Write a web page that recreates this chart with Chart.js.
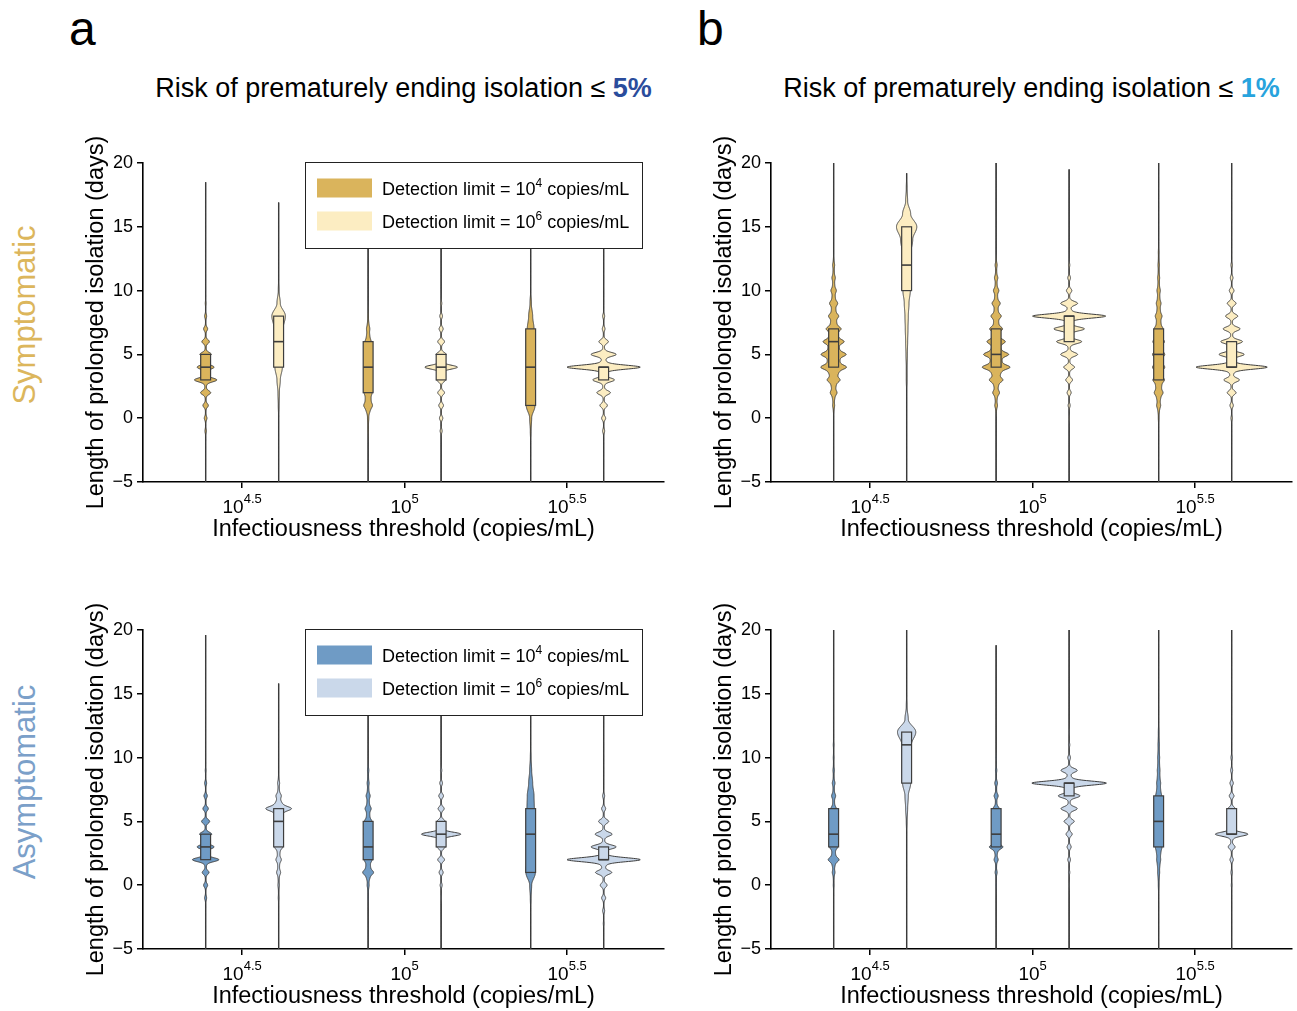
<!DOCTYPE html>
<html>
<head>
<meta charset="utf-8">
<script src="https://cdn.jsdelivr.net/npm/chart.js@4.4.1/dist/chart.umd.min.js"></script>
<style>
  body { margin: 0; background: #fff; width: 1297px; height: 1011px; overflow: hidden; position: relative;
         font-family: "Liberation Sans", Arial, sans-serif; color: #000; }
  .panel { position: absolute; width: 669px; height: 430px; }
  .letter { position: absolute; font-size: 48px; line-height: 48px; }
  .title { position: absolute; width: 521px; text-align: center; font-size: 27px; line-height: 28px; white-space: nowrap; }
  .title b { font-weight: bold; }
  .row { position: absolute; font-size: 31px; line-height: 32px; white-space: nowrap;
         transform: translate(-50%, -50%) rotate(-90deg); }
</style>
</head>
<body>
<div class="letter" style="left:69px; top:5px;">a</div>
<div class="letter" style="left:697px; top:5px;">b</div>
<div class="title" style="left:143px; top:74px;">Risk of prematurely ending isolation ≤ <b style="color:#2a4c9c">5%</b></div>
<div class="title" style="left:771px; top:74px;">Risk of prematurely ending isolation ≤ <b style="color:#27a3dd">1%</b></div>
<div class="row" style="left:25px; top:315px; color:#dcb65c;">Symptomatic</div>
<div class="row" style="left:25px; top:782px; color:#7ba0c9;">Asymptomatic</div>

<canvas class="panel" id="symp5" width="669" height="430" style="left:0; top:120px;"></canvas>
<canvas class="panel" id="symp1" width="669" height="430" style="left:628px; top:120px;"></canvas>
<canvas class="panel" id="asym5" width="669" height="430" style="left:0; top:587px;"></canvas>
<canvas class="panel" id="asym1" width="669" height="430" style="left:628px; top:587px;"></canvas>

<script>
// x categories: log10 of infectiousness threshold
const thresholds = [4.5, 5, 5.5];
const tickExponents = ["4.5", "5", "5.5"];
const yTicks = [-5, 0, 5, 10, 15, 20];
const legendExponents = ["4", "6"];
// density values are read at each whole day of this grid
const dayGrid = [-3, -2, -1, 0, 1, 2, 3, 4, 5, 6, 7, 8, 9, 10, 11, 12, 13, 14, 15, 16, 17, 18];

// Symptomatic, risk <= 5%
const symp5DarkDensity = [
  [0, 0, 2, 4, 8, 15, 33, 25, 17, 11, 6, 3, 1, 0, 0, 0, 0, 0, 0, 0, 0, 0],
  [0, 0, 1, 2, 13, 12, 10, 10, 10, 9, 5, 1, 0, 0, 0, 0, 0, 0, 0, 0, 0, 0],
  [0, 0, 1, 3, 13, 10, 10, 10, 10, 10, 10, 6, 2, 0, 0, 0, 0, 0, 0, 0, 0, 0]
];
const symp5DarkBox = [[3, 4, 5], [2, 4, 6], [1, 4, 7]];
const symp5DarkRange = [[-5, 18.5], [-5, 20], [-5, 20]];
const symp5DarkShape = [0.1, 0.7, 1];
const symp5LightDensity = [
  [0, 0, 0, 0, 1, 2, 5, 11, 13, 13, 13, 20, 5, 1, 0, 0, 0, 0, 0, 0, 0, 0],
  [0, 0, 3, 5, 7, 10, 13, 48, 15, 10, 6, 4, 2, 0, 0, 0, 0, 0, 0, 0, 0, 0],
  [0, 0, 3, 6, 11, 20, 32, 108, 37, 14, 4, 3, 0, 0, 0, 0, 0, 0, 0, 0, 0, 0]
];
const symp5LightBox = [[4, 6, 8], [3, 4, 5], [3, 4, 4]];
const symp5LightRange = [[-5, 16.9], [-5, 20], [-5, 20]];
const symp5LightShape = [1, 0.1, 0.1];

// Symptomatic, risk <= 1%
const symp1DarkDensity = [
  [0, 0, 0, 0, 3, 10, 19, 38, 37, 31, 22, 15, 12, 8, 5, 3, 0, 0, 0, 0, 0, 0],
  [0, 0, 0, 0, 4, 10, 20, 41, 37, 27, 19, 15, 12, 8, 5, 3, 0, 0, 0, 0, 0, 0],
  [0, 0, 0, 1, 6, 13, 17, 18, 18, 17, 13, 10, 7, 5, 3, 2, 1, 0, 0, 0, 0, 0]
];
const symp1DarkBox = [[4, 6, 7], [4, 5, 7], [3, 5, 7]];
const symp1DarkRange = [[-5, 20], [-5, 20], [-5, 20]];
const symp1DarkShape = [0.5, 0.45, 0.6];
const symp1LightDensity = [
  [0, 0, 0, 0, 0, 0, 1, 1, 2, 3, 4, 5, 7, 11, 13, 13, 13, 18, 30, 12, 3, 1],
  [0, 0, 0, 1, 3, 6, 10, 16, 25, 37, 45, 108, 25, 8, 4, 2, 0, 0, 0, 0, 0, 0],
  [0, 0, 0, 2, 5, 13, 23, 105, 37, 32, 25, 18, 13, 7, 4, 2, 0, 0, 0, 0, 0, 0]
];
const symp1LightBox = [[10, 12, 15], [6, 8, 8], [4, 4, 6]];
const symp1LightRange = [[-5, 19.2], [-5, 19.5], [-5, 20]];
const symp1LightShape = [1, 0.1, 0.1];

// Asymptomatic, risk <= 5%
const asym5DarkDensity = [
  [0, 0, 3, 6, 10, 39, 25, 18, 12, 8, 5, 3, 1, 0, 0, 0, 0, 0, 0, 0, 0, 0],
  [0, 0, 1, 3, 16, 12, 12, 12, 11, 9, 6, 3, 2, 0, 0, 0, 0, 0, 0, 0, 0, 0],
  [0, 0, 1, 3, 14, 11, 11, 11, 11, 11, 10, 6, 3, 1, 0, 0, 0, 0, 0, 0, 0, 0]
];
const asym5DarkBox = [[2, 3, 4], [2, 3, 5], [1, 4, 6]];
const asym5DarkRange = [[-5, 19.6], [-5, 20], [-5, 20]];
const asym5DarkShape = [0.1, 0.5, 1];
const asym5LightDensity = [
  [0, 0, 1, 2, 6, 8, 12, 12, 14, 38, 8, 3, 0, 0, 0, 0, 0, 0, 0, 0, 0, 0],
  [0, 0, 1, 3, 6, 10, 12, 58, 12, 9, 7, 4, 2, 0, 0, 0, 0, 0, 0, 0, 0, 0],
  [1, 3, 6, 10, 24, 108, 37, 25, 15, 6, 3, 0, 0, 0, 0, 0, 0, 0, 0, 0, 0, 0]
];
const asym5LightBox = [[3, 5, 6], [3, 4, 5], [2, 2, 3]];
const asym5LightRange = [[-5, 15.8], [-5, 20], [-5, 20]];
const asym5LightShape = [0.4, 0.1, 0.1];

// Asymptomatic, risk <= 1%
const asym1DarkDensity = [
  [0, 0, 0, 1, 4, 16, 12, 12, 10, 8, 6, 4, 2, 1, 1, 0, 0, 0, 0, 0, 0, 0],
  [0, 0, 0, 1, 3, 6, 20, 12, 10, 9, 6, 4, 2, 1, 0, 0, 0, 0, 0, 0, 0, 0],
  [0, 0, 0, 1, 3, 6, 10, 10, 10, 10, 9, 6, 4, 3, 2, 1, 0, 0, 0, 0, 0, 0]
];
const asym1DarkBox = [[3, 4, 6], [3, 4, 6], [3, 5, 7]];
const asym1DarkRange = [[-5, 20], [-5, 18.8], [-5, 20]];
const asym1DarkShape = [0.4, 0.3, 0.8];
const asym1LightDensity = [
  [0, 0, 0, 0, 0, 0, 0, 0, 1, 3, 5, 12, 13, 13, 14, 27, 5, 1, 0, 0, 0, 0],
  [0, 0, 0, 1, 2, 4, 6, 9, 15, 24, 32, 110, 24, 4, 2, 1, 0, 0, 0, 0, 0, 0],
  [0, 0, 0, 1, 2, 5, 10, 48, 12, 10, 7, 5, 3, 2, 0, 0, 0, 0, 0, 0, 0, 0]
];
const asym1LightBox = [[8, 11, 12], [7, 8, 8], [4, 4, 6]];
const asym1LightRange = [[-5, 20], [-5, 20], [-5, 20]];
const asym1LightShape = [1, 0.1, 0.1];

// styling
const FONT = '"Liberation Sans", Arial, sans-serif';
const EDGE = "#3d3d3d";
const gold = ["#dab45c", "#fcedc2"];
const blue = ["#6f9bc5", "#cad8ea"];
const dodge = 0.1123;          // x offset of each hue from its category
const densityScale = 0.1126 / 108; // x units per density point
const boxHalf = 0.0152;
const spikeSigma = 0.15;

function violinHalf(dens, waist, t) {
  let spike = 0;
  for (let k = 0; k < dayGrid.length; k++) {
    const d = t - dayGrid[k];
    if (Math.abs(d) < 1.2) spike += dens[k] * Math.exp(-d * d / (2 * spikeSigma * spikeSigma));
  }
  const pos = t - dayGrid[0];
  const k0 = Math.floor(pos);
  const f = pos - k0;
  const a = k0 >= 0 && k0 < dens.length ? dens[k0] : 0;
  const b = k0 + 1 >= 0 && k0 + 1 < dens.length ? dens[k0 + 1] : 0;
  const w = (1 - Math.cos(Math.PI * f)) / 2;
  return waist * (a + (b - a) * w) + (1 - waist) * spike;
}

function drawViolin(chart, el, xVal, v, color) {
  const { ctx } = chart;
  const xs = chart.scales.x, ys = chart.scales.y;
  const cx = el.x;
  const pxPer = xs.getPixelForValue(xVal + densityScale) - xs.getPixelForValue(xVal);
  const [lo, hi] = v.range;

  // thin line over the full extent
  ctx.strokeStyle = EDGE;
  ctx.lineWidth = 1.3;
  ctx.beginPath();
  ctx.moveTo(cx, ys.getPixelForValue(lo));
  ctx.lineTo(cx, ys.getPixelForValue(hi));
  ctx.stroke();

  // violin body
  const pts = [];
  for (let t = lo; t <= hi + 1e-9; t += 0.02) {
    pts.push([ys.getPixelForValue(t), violinHalf(v.density, v.shape, t) * pxPer]);
  }
  ctx.beginPath();
  pts.forEach((p, i) => (i ? ctx.lineTo(cx + p[1], p[0]) : ctx.moveTo(cx + p[1], p[0])));
  for (let i = pts.length - 1; i >= 0; i--) ctx.lineTo(cx - pts[i][1], pts[i][0]);
  ctx.closePath();
  ctx.fillStyle = color;
  ctx.fill();
  ctx.lineWidth = 1;
  ctx.stroke();

  // inner box
  const [q1, med, q3] = v.box;
  const bw = xs.getPixelForValue(xVal + boxHalf) - xs.getPixelForValue(xVal);
  const yTop = ys.getPixelForValue(q3), yBot = ys.getPixelForValue(q1);
  ctx.fillStyle = color;
  ctx.fillRect(cx - bw, yTop, 2 * bw, yBot - yTop);
  ctx.lineWidth = 1.2;
  ctx.strokeRect(cx - bw, yTop, 2 * bw, yBot - yTop);
  ctx.lineWidth = 1.6;
  ctx.beginPath();
  ctx.moveTo(cx - bw, ys.getPixelForValue(med));
  ctx.lineTo(cx + bw, ys.getPixelForValue(med));
  ctx.stroke();
}

function drawSupText(ctx, parts, x, y, size) {
  // parts: [text, sup, text]
  let cx = x;
  parts.forEach((p, i) => {
    const sup = i % 2 === 1;
    ctx.font = (sup ? Math.round(size * 0.68) : size) + "px " + FONT;
    ctx.fillText(p, cx, sup ? y - size * 0.42 : y);
    cx += ctx.measureText(p).width;
  });
}

const violinPlugin = {
  id: "violins",
  afterDatasetsDraw(chart) {
    const { ctx, chartArea } = chart;
    ctx.save();
    ctx.beginPath();
    ctx.rect(chartArea.left, chartArea.top - 2, chartArea.width, chartArea.height + 2);
    ctx.clip();
    chart.data.datasets.forEach((ds, di) => {
      const meta = chart.getDatasetMeta(di);
      ds.violins.forEach((v, i) => drawViolin(chart, meta.data[i], ds.data[i].x, v, ds.backgroundColor));
    });
    ctx.restore();
  },
  afterDraw(chart, args, opts) {
    const { ctx, chartArea } = chart;
    const xs = chart.scales.x;
    ctx.save();
    ctx.fillStyle = "#000";
    ctx.textBaseline = "alphabetic";
    // x tick labels 10^k
    xs.ticks.forEach((tk, i) => {
      const px = xs.getPixelForValue(tk.value);
      ctx.font = "19px " + FONT;
      const wb = ctx.measureText("10").width;
      ctx.font = "13px " + FONT;
      const we = ctx.measureText(tickExponents[i]).width;
      ctx.font = "19px " + FONT;
      const x0 = px - (wb + we) / 2;
      ctx.fillText("10", x0, chartArea.bottom + 31);
      ctx.font = "13px " + FONT;
      ctx.fillText(tickExponents[i], x0 + wb, chartArea.bottom + 21);
    });
    // legend
    if (opts.legend) {
      const w = 337, h = 86;
      const left = chartArea.right - 359, top = chartArea.top - 1;
      ctx.fillStyle = "#fff";
      ctx.fillRect(left, top, w, h);
      ctx.strokeStyle = "#222";
      ctx.lineWidth = 1;
      ctx.strokeRect(left + 0.5, top + 0.5, w, h);
      chart.data.datasets.forEach((ds, i) => {
        const yc = top + 26 + i * 33;
        ctx.fillStyle = ds.backgroundColor;
        ctx.fillRect(left + 12, yc - 9.5, 55, 19);
        ctx.fillStyle = "#000";
        drawSupText(ctx, ["Detection limit = 10", legendExponents[i], " copies/mL"], left + 77, yc + 6.5, 18);
      });
    }
    ctx.restore();
  }
};

function makeViolins(density, box, range, shape) {
  return density.map((d, i) => ({ density: d, box: box[i], range: range[i], shape: shape[i] }));
}

function makePanel(id, colors, dark, light, legend) {
  const mkSet = (label, v, color, off) => ({
    label: label,
    data: thresholds.map((t, i) => ({ x: t + off, y: v[i].box[1] })),
    violins: v,
    backgroundColor: color,
    pointRadius: 0,
    showLine: false
  });
  new Chart(document.getElementById(id), {
    type: "scatter",
    data: {
      datasets: [
        mkSet("Detection limit = 10^4 copies/mL", dark, colors[0], -dodge),
        mkSet("Detection limit = 10^6 copies/mL", light, colors[1], dodge)
      ]
    },
    options: {
      responsive: false,
      animation: false,
      devicePixelRatio: 1,
      layout: { padding: { left: 78, right: 5, top: 43, bottom: 2 } },
      plugins: { legend: { display: false }, tooltip: { enabled: false }, violins: { legend: legend } },
      scales: {
        x: {
          type: "linear",
          min: 4.195,
          max: 5.798,
          afterBuildTicks: (s) => { s.ticks = thresholds.map((v) => ({ value: v })); },
          afterFit: (s) => { s.height = 66; },
          ticks: { display: false },
          grid: { drawOnChartArea: false, drawTicks: true, tickLength: 6, color: "#000", lineWidth: 1.5 },
          border: { display: true, color: "#000", width: 1.6 },
          title: { display: true, text: "Infectiousness threshold (copies/mL)", color: "#000",
                   font: { family: FONT, size: 23.5 }, padding: { top: 4, bottom: 4 } }
        },
        y: {
          min: -5,
          max: 20,
          afterBuildTicks: (s) => { s.ticks = yTicks.map((v) => ({ value: v })); },
          afterFit: (s) => { s.width = 65; },
          ticks: { color: "#000", font: { family: FONT, size: 18 }, padding: 4,
                   callback: (v) => String(v).replace("-", "\u2212") },
          grid: { drawOnChartArea: false, drawTicks: true, tickLength: 6, color: "#000", lineWidth: 1.5 },
          border: { display: true, color: "#000", width: 1.6 },
          title: { display: true, text: "Length of prolonged isolation (days)", color: "#000",
                   font: { family: FONT, size: 23.5 }, padding: { top: 4, bottom: 4 } }
        }
      }
    },
    plugins: [violinPlugin]
  });
}

makePanel("symp5", gold,
  makeViolins(symp5DarkDensity, symp5DarkBox, symp5DarkRange, symp5DarkShape),
  makeViolins(symp5LightDensity, symp5LightBox, symp5LightRange, symp5LightShape), true);
makePanel("symp1", gold,
  makeViolins(symp1DarkDensity, symp1DarkBox, symp1DarkRange, symp1DarkShape),
  makeViolins(symp1LightDensity, symp1LightBox, symp1LightRange, symp1LightShape), false);
makePanel("asym5", blue,
  makeViolins(asym5DarkDensity, asym5DarkBox, asym5DarkRange, asym5DarkShape),
  makeViolins(asym5LightDensity, asym5LightBox, asym5LightRange, asym5LightShape), true);
makePanel("asym1", blue,
  makeViolins(asym1DarkDensity, asym1DarkBox, asym1DarkRange, asym1DarkShape),
  makeViolins(asym1LightDensity, asym1LightBox, asym1LightRange, asym1LightShape), false);
</script>
</body>
</html>
